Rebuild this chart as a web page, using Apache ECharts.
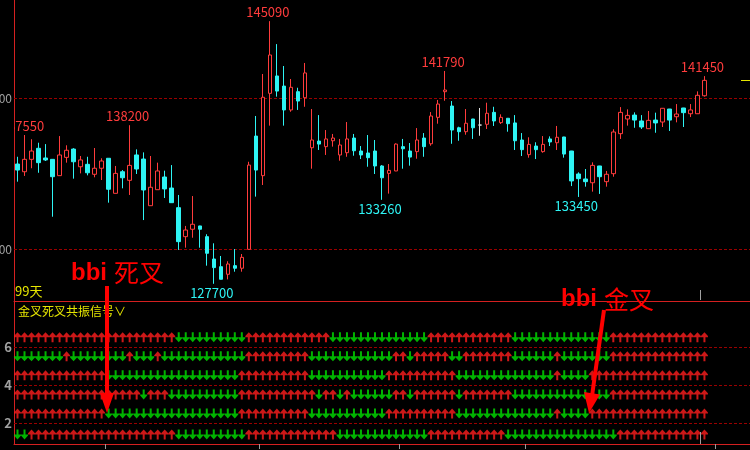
<!DOCTYPE html>
<html><head><meta charset="utf-8">
<script src="https://cdn.jsdelivr.net/npm/echarts@6/dist/echarts.min.js"></script>
<style>html,body{margin:0;padding:0;background:#000;}#c{width:750px;height:450px;}</style>
</head><body><div id="c"></div>
<script>
// ---- price data (99 trading days) ----
const openP = [135630,135120,135940,136670,136030,135940,134860,136070,136620,135450,
135610,134950,135350,136010,133690,135120,134550,136230,135960,132870,
133930,134770,134040,132740,130820,131310,131530,130820,129340,128830,
128330,128900,128730,129980,137480,134860,140310,141460,140790,139210,
140420,140020,136710,137150,136780,137170,136230,136380,137350,136490,
136360,136490,135500,135010,135170,136780,136490,136450,137350,136970,
138720,140420,139470,138030,137770,138610,138210,138260,139050,138370,
138660,138350,137220,136250,136820,136450,137290,137040,137420,136490,
134970,134640,134390,135500,134460,134990,137640,138610,138870,138480,
137970,138540,138410,139270,138760,139340,138960,138960,140150];
const closeP = [135230,135940,136490,135720,135900,134790,136230,136540,135780,135900,
135050,135350,135830,133960,135010,134720,135540,135300,133910,134090,
135170,133980,133070,130490,131260,131640,131310,129720,128770,128000,
129010,128730,129450,135560,135230,140050,142850,140460,139210,140710,
139800,141660,137220,136950,137290,137350,136890,137290,136510,136230,
136050,135500,134720,135210,136950,136640,136090,137220,136780,138810,
139600,140530,137880,137770,138330,138030,138210,138990,138480,138720,
138300,137170,136580,136930,136580,136930,137090,137400,136290,134510,
134660,134460,135540,134790,134950,137750,139050,138850,138540,138080,
138520,138350,139320,138540,138940,139030,139210,140180,141170];
const lowP = [134460,134840,135350,135050,135830,132140,134850,135720,134660,135010,
134880,134750,134570,133070,133680,134020,133580,134970,131920,132860,
133920,133380,133060,129940,130090,130750,130090,128900,127700,127990,
127990,128500,128500,129970,133470,134240,138170,140090,138170,139090,
139210,139420,135320,136560,136230,136780,135850,136110,136180,135960,
135450,134970,133260,133670,135160,135320,135520,135980,136110,136840,
138300,139820,136970,137170,137570,137290,137500,137950,138150,138280,
137770,136560,136160,136050,135960,136380,136820,136560,136050,134170,
133450,134130,133800,133650,134130,134790,137290,138170,138030,137950,
137960,137700,138080,137820,138390,138080,138740,138950,140090];
const highP = [136110,137550,137270,137040,136950,135950,137480,136870,136680,136160,
136110,136690,136010,136010,135500,135230,138200,136600,136400,136160,
135720,135190,135560,133580,131530,133510,131540,130980,130380,129540,
129190,130000,129670,135780,138810,141590,145090,143570,142120,141260,
140680,142320,139270,138870,137880,137620,137290,138410,137620,136820,
137550,137220,135560,135630,137000,137290,137020,138010,137680,139070,
139870,141790,139800,138100,139270,138620,139340,139690,139420,138920,
138670,138870,137680,137400,137070,137480,137460,138150,137430,136500,
135080,135300,135740,135510,135170,137930,139400,139250,139050,138870,
139140,139030,139330,139280,139600,139350,139600,140440,141450];
const peakIdx = [1, 16, 36, 61, 98];
const troughIdx = [28, 52, 80];
const dojiIdx = [66];
const priceTicks = [130000, 140000];

// ---- 金叉死叉共振信号: 1 = 金叉(red up), 0 = 死叉(green down) ----
const sig1 = [1,1,1,1,1,1,1,1,1,1, 1,1,1,1,1,1,1,1,1,1, 1,1,1,0,0,0,0,0,0,0, 0,0,0,1,1,1,1,1,1,1,
 1,1,1,1,1,0,0,0,0,0, 0,0,0,0,0,0,0,0,0,1, 1,1,1,1,1,1,1,1,1,1, 1,0,0,0,0,0,0,0,0,0,
 0,0,0,0,0,1,1,1,1,1, 1,1,1,1,1,1,1,1,1];
const sig2 = [0,0,0,0,0,0,0,1,0,0, 0,0,0,0,0,0,1,0,0,0, 1,0,0,0,0,0,0,0,0,0, 0,0,0,1,1,1,1,1,1,1,
 1,1,0,0,0,0,0,0,0,0, 0,0,0,0,1,1,0,1,1,1, 1,1,0,0,1,1,1,1,1,1, 1,0,0,0,0,0,0,1,0,0,
 0,0,0,0,0,1,1,1,1,1, 1,1,1,1,1,1,1,1,1];
const sig3 = [1,1,1,1,1,1,1,1,1,1, 1,1,1,0,0,0,0,0,0,0, 0,0,0,0,0,0,0,0,0,0, 0,0,1,1,1,1,1,1,1,1,
 1,1,0,0,0,0,0,0,0,0, 0,0,0,1,1,1,1,1,1,1, 1,1,1,0,0,0,0,0,0,0, 0,0,0,0,0,0,0,1,0,0,
 0,0,1,1,1,1,1,1,1,1, 1,1,1,1,1,1,1,1,1];
const sig4 = [1,1,1,1,1,1,1,1,1,1, 1,1,1,1,1,1,1,1,0,1, 1,1,0,0,0,0,0,0,0,0, 0,0,1,1,1,1,1,1,1,1,
 1,1,1,0,1,1,0,1,0,0, 0,0,0,0,1,1,0,1,1,1, 1,1,1,0,1,1,1,1,1,1, 1,0,0,0,0,0,0,0,0,0,
 0,0,0,0,0,1,1,1,1,1, 1,1,1,1,1,1,1,1,1];
const sig5 = [1,1,1,1,1,1,1,1,1,1, 1,1,1,0,0,0,0,0,0,0, 0,0,0,0,0,0,0,0,0,0, 0,0,1,1,1,1,1,1,1,1,
 1,1,0,0,0,0,0,0,0,0, 0,0,0,1,1,1,1,1,1,1, 1,1,1,0,0,0,0,0,0,0, 0,0,0,0,0,0,0,1,0,0,
 0,0,1,1,1,1,1,1,1,1, 1,1,1,1,1,1,1,1,1];
const sig6 = [0,0,1,1,1,1,1,1,1,1, 1,1,1,1,1,1,1,1,1,1, 1,1,1,0,0,0,0,0,0,0, 0,0,0,1,1,1,1,1,1,1,
 1,1,1,1,1,1,0,0,0,0, 0,0,0,0,0,0,0,0,0,1, 1,1,1,1,1,1,1,1,1,1, 0,0,0,0,0,0,0,0,0,0,
 0,0,0,0,0,0,1,1,1,1, 1,1,1,1,1,1,1,1,1];
const signalLevels = [6.5, 5.5, 4.5, 3.5, 2.5, 1.4];
const signalTicks = [2, 4, 6];
const monthTickIdx = [13, 35, 55, 73, 100];
const slotCount = 105;

// ---- build ----
const RED = '#ff3c3c', CYAN = '#2ef4f4', DOJI = '#e0e0e0';
const slots = Array.from({length: slotCount}, (_, i) => String(i + 1));
const candles = openP.map((o, i) => {
  const v = [o, closeP[i], lowP[i], highP[i]];
  if (dojiIdx.includes(i)) return {value: v, itemStyle: {color: DOJI, color0: DOJI, borderColor: DOJI, borderColor0: DOJI, borderColorDoji: DOJI}};
  return v;
});
const labelPts = peakIdx.map(i => [i, highP[i], 1]).concat(troughIdx.map(i => [i, lowP[i], 0]));
const sigRows = [sig1, sig2, sig3, sig4, sig5, sig6];
const upPts = [], downPts = [];
sigRows.forEach((row, r) => row.forEach((s, i) => (s ? upPts : downPts).push([i, signalLevels[r]])));

const UP_ARROW = 'path://M7,0L14,7L14,9L9,9L9,18L5,18L5,9L0,9L0,7Z';
const DOWN_ARROW = 'path://M5,0L9,0L9,9L14,9L14,11L7,18L0,11L0,9L5,9Z';
const AXIS_RED = '#d42020';
const DASH_RED = '#9a0000';
const labelFont = '"Noto Sans CJK SC", sans-serif';

const chart = echarts.init(document.getElementById('c'), null, {renderer: 'canvas'});
chart.setOption({
  backgroundColor: '#000',
  animation: false,
  grid: [
    {left: 14, right: 0, top: 0, height: 301, containLabel: false, outerBoundsMode: 'none'},
    {left: 14, right: 0, top: 301, height: 143, containLabel: false, outerBoundsMode: 'none'}
  ],
  xAxis: [
    {type: 'category', gridIndex: 0, data: slots, boundaryGap: true,
     axisLine: {onZero: false, lineStyle: {color: AXIS_RED}}, axisTick: {show: false}, axisLabel: {show: false}, splitLine: {show: false}},
    {type: 'category', gridIndex: 1, data: slots, boundaryGap: true,
     axisLine: {onZero: false, lineStyle: {color: AXIS_RED}},
     axisTick: {show: true, interval: (i) => monthTickIdx.includes(i), length: 5, lineStyle: {color: '#9a9a9a'}},
     axisLabel: {show: false}, splitLine: {show: false}}
  ],
  yAxis: [
    {type: 'value', gridIndex: 0, min: 126560, max: 146490, scale: true,
     axisLine: {show: true, lineStyle: {color: AXIS_RED}}, axisTick: {show: false}, splitLine: {show: false},
     axisLabel: {customValues: priceTicks, formatter: v => String(v), color: '#a0a0a0', fontSize: 12, margin: 2, fontFamily: labelFont}},
    {type: 'value', gridIndex: 1, min: 0.9, max: 8.4,
     axisLine: {show: true, lineStyle: {color: AXIS_RED}}, axisTick: {show: false}, splitLine: {show: false},
     axisLabel: {customValues: signalTicks, formatter: v => String(v), color: '#a0a0a0', fontSize: 13, fontWeight: 'bold', margin: 2, fontFamily: labelFont}}
  ],
  series: [
    {type: 'candlestick', xAxisIndex: 0, yAxisIndex: 0, data: candles, barWidth: 4,
     itemStyle: {color: '#000', color0: CYAN, borderColor: RED, borderColor0: CYAN, borderWidth: 1},
     markLine: {silent: true, symbol: 'none', label: {show: false}, z: 1,
       lineStyle: {type: [3, 2], color: DASH_RED, width: 1},
       data: priceTicks.map(v => ({yAxis: v}))}},
    {type: 'custom', xAxisIndex: 0, yAxisIndex: 0, data: labelPts, clip: true, silent: true, z: 5,
     renderItem: (params, api) => {
       const p = api.coord([api.value(0), api.value(1)]);
       const high = api.value(2) === 1;
       return {type: 'text', x: p[0] - 2, y: p[1] + (high ? -9 : 9),
         style: {text: String(api.value(1)), fill: high ? RED : CYAN, font: '13px ' + labelFont, align: 'center', verticalAlign: 'middle'}};
     }},
    {type: 'scatter', xAxisIndex: 1, yAxisIndex: 1, data: upPts, symbol: UP_ARROW, symbolSize: [7, 10],
     itemStyle: {color: '#ff1e1e'}, silent: true,
     markLine: {silent: true, symbol: 'none', label: {show: false},
       lineStyle: {type: [3, 2], color: DASH_RED, width: 1},
       data: signalTicks.map(v => ({yAxis: v}))}},
    {type: 'scatter', xAxisIndex: 1, yAxisIndex: 1, data: downPts, symbol: DOWN_ARROW, symbolSize: [7, 10],
     itemStyle: {color: '#00e100'}, silent: true}
  ],
  graphic: [
    {type: 'text', x: 15, y: 291, z: 100, style: {text: '99天', fill: '#e6e600', font: '13px ' + labelFont, verticalAlign: 'middle'}},
    {type: 'text', x: 18, y: 311, z: 100, style: {text: '金叉死叉共振信号∨', fill: '#e6e600', font: '12px ' + labelFont, verticalAlign: 'middle'}},
    {type: 'text', x: 71, y: 273, z: 100, style: {text: 'bbi', fill: '#ff0000', font: 'bold 24px "Liberation Sans"', verticalAlign: 'middle'}},
    {type: 'text', x: 114, y: 272, z: 100, style: {text: '死叉', fill: '#ff0000', font: '25px ' + labelFont, verticalAlign: 'middle'}},
    {type: 'text', x: 561, y: 299, z: 100, style: {text: 'bbi', fill: '#ff0000', font: 'bold 24px "Liberation Sans"', verticalAlign: 'middle'}},
    {type: 'text', x: 604, y: 299, z: 100, style: {text: '金叉', fill: '#ff0000', font: '25px ' + labelFont, verticalAlign: 'middle'}},
    {type: 'line', z: 100, shape: {x1: 107, y1: 286, x2: 107, y2: 396}, style: {stroke: '#ff0000', lineWidth: 4}},
    {type: 'polygon', z: 100, shape: {points: [[100, 393], [114, 393], [107, 413]]}, style: {fill: '#ff0000'}},
    {type: 'line', z: 100, shape: {x1: 604, y1: 310, x2: 592, y2: 396}, style: {stroke: '#ff0000', lineWidth: 4}},
    {type: 'polygon', z: 100, shape: {points: [[600, 394.5], [584, 392], [589, 413]]}, style: {fill: '#ff0000'}},
    {type: 'line', z: 100, shape: {x1: 741, y1: 80.5, x2: 750, y2: 80.5}, style: {stroke: '#e6e600', lineWidth: 1}},
    {type: 'line', z: 100, shape: {x1: 700.5, y1: 290, x2: 700.5, y2: 300}, style: {stroke: '#a0a0a0', lineWidth: 1}},
    {type: 'line', z: 100, shape: {x1: 700.5, y1: 432, x2: 700.5, y2: 444}, style: {stroke: '#a0a0a0', lineWidth: 1}}
  ]
});
</script>
</body></html>
